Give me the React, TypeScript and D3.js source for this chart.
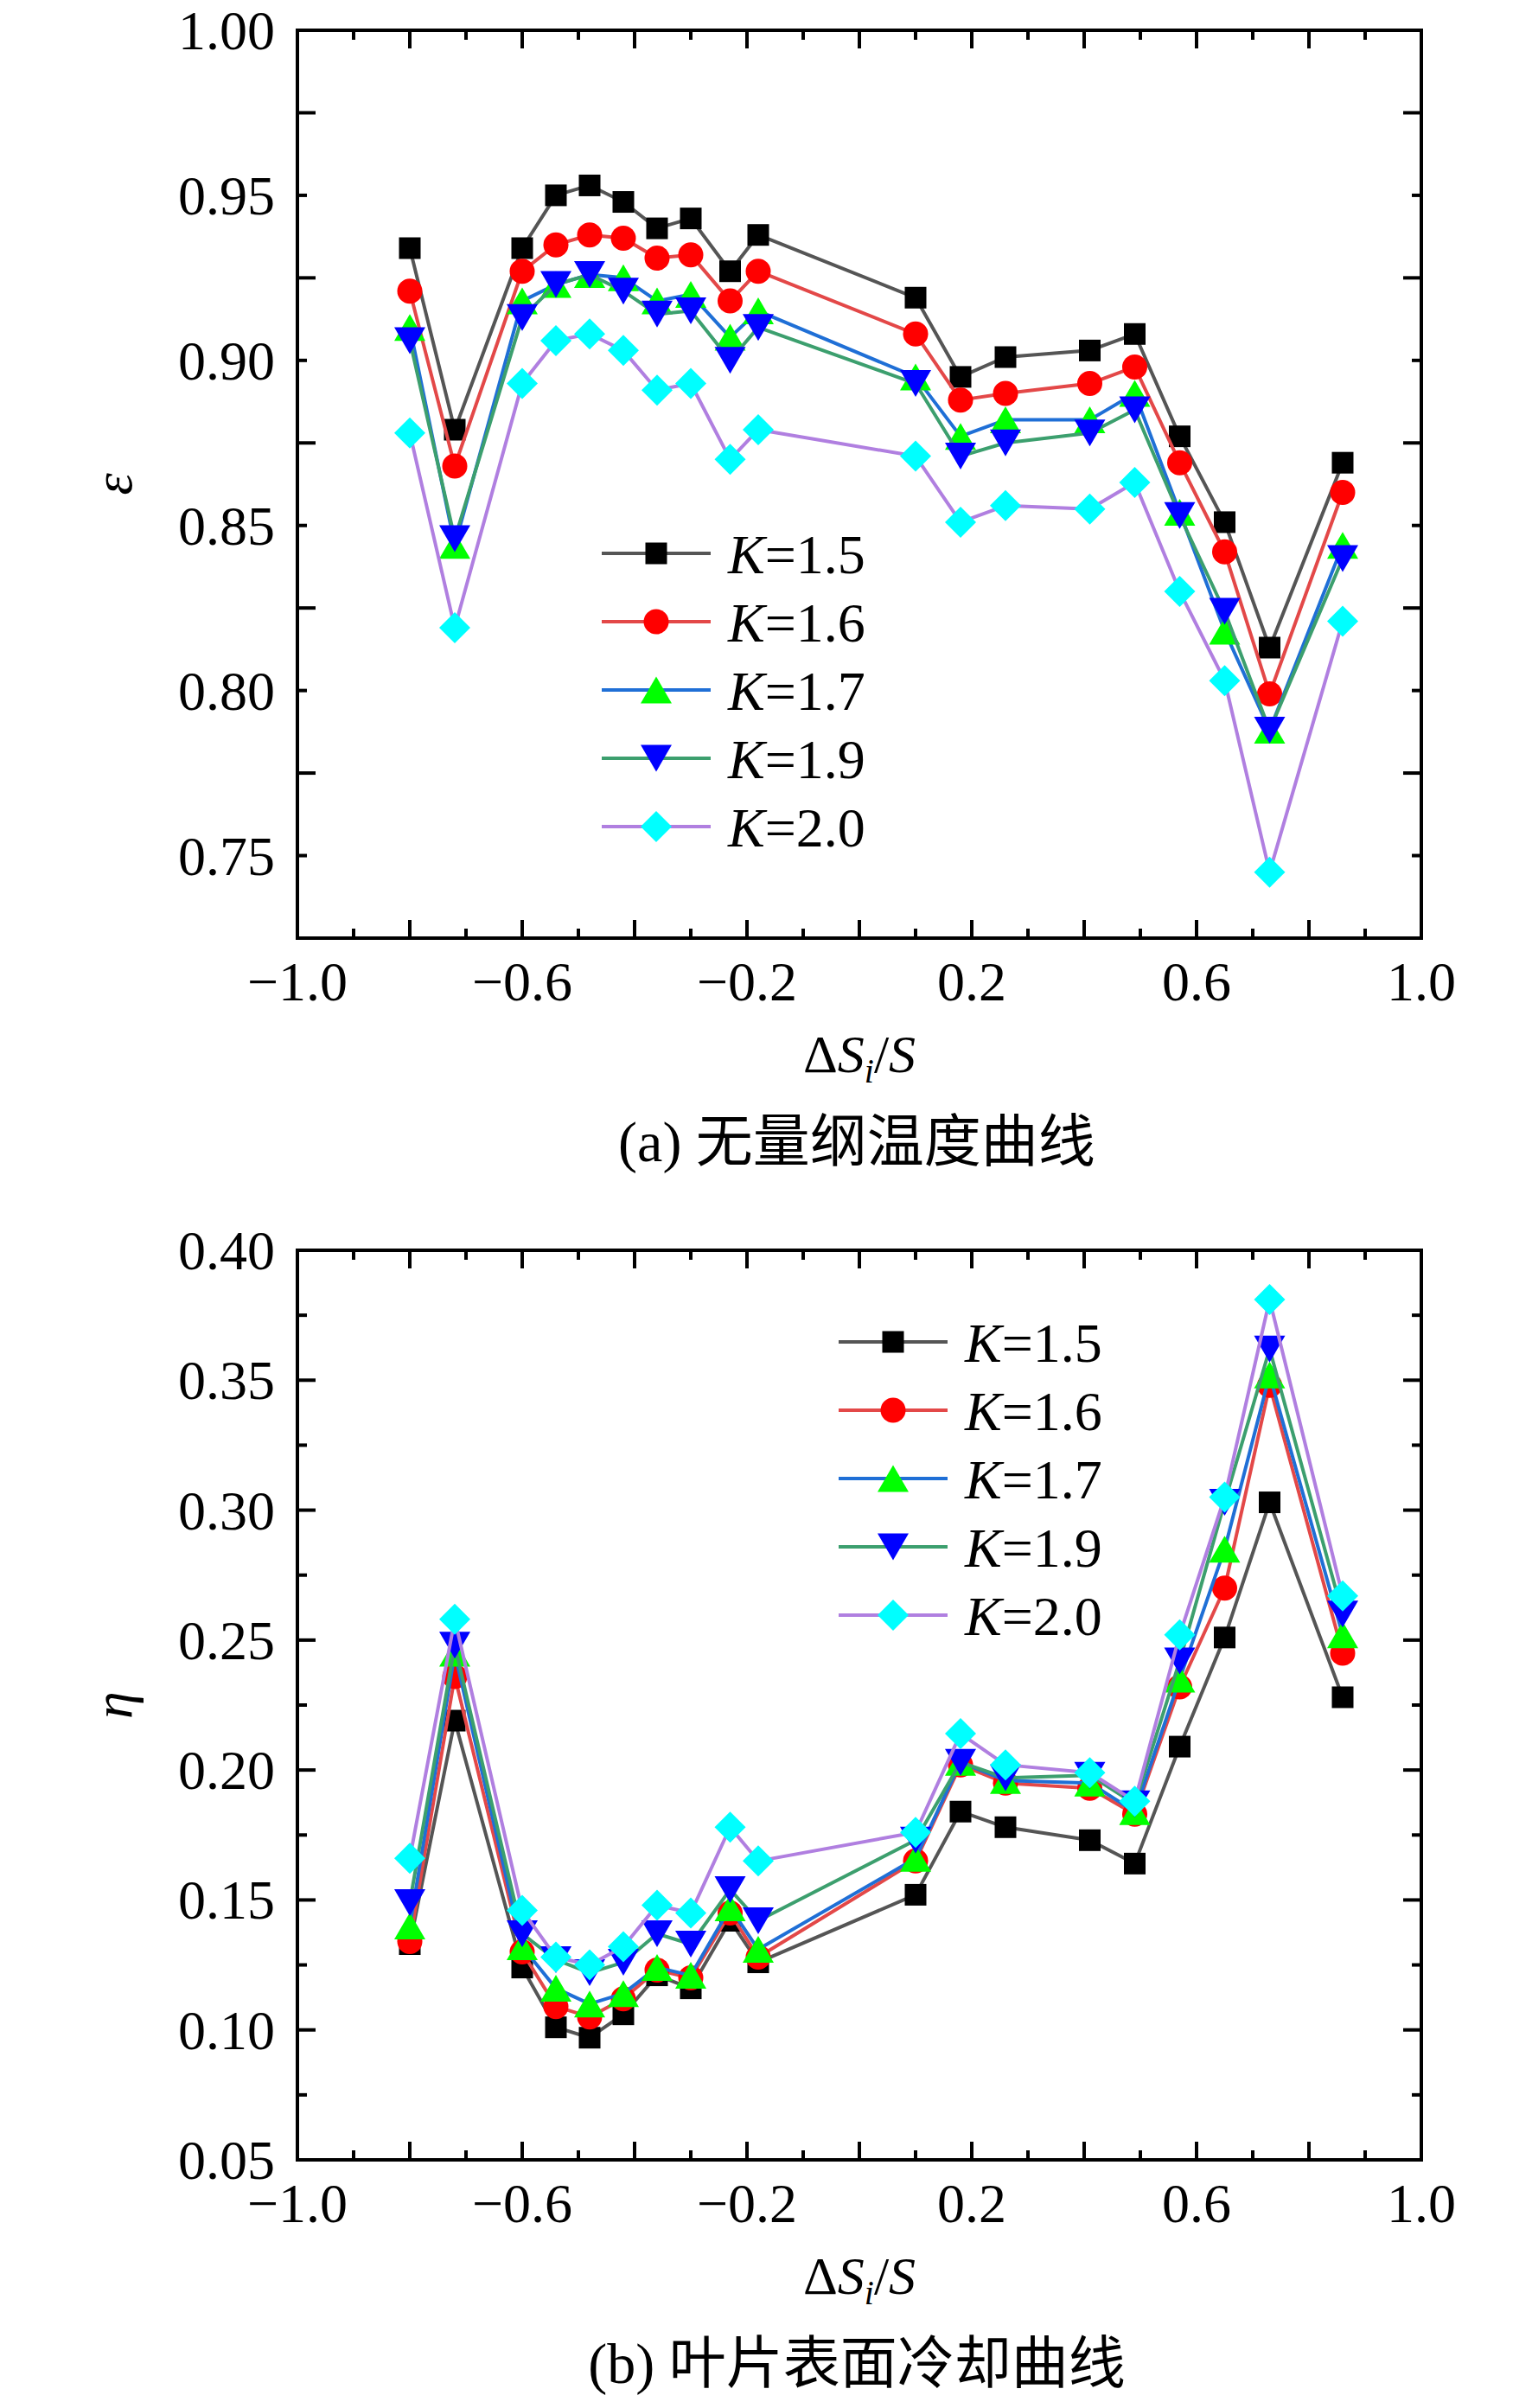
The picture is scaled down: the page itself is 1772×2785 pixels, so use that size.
import React from 'react';
import * as d3 from 'd3';

// positions along the blade surface, ΔSi/S
const xPos = [-0.8, -0.72, -0.6, -0.54, -0.48, -0.42, -0.36, -0.3, -0.23, -0.18, 0.1, 0.18, 0.26, 0.41, 0.49, 0.57, 0.65, 0.73, 0.86];

const kLabels = ['1.5', '1.6', '1.7', '1.9', '2.0'];

// (a) dimensionless temperature ε
const epsK15 = [0.934, 0.879, 0.934, 0.950, 0.953, 0.948, 0.940, 0.943, 0.927, 0.938, 0.919, 0.895, 0.901, 0.903, 0.908, 0.877, 0.851, 0.813, 0.869];
const epsK16 = [0.921, 0.868, 0.927, 0.935, 0.938, 0.937, 0.931, 0.932, 0.918, 0.927, 0.908, 0.888, 0.890, 0.893, 0.898, 0.869, 0.842, 0.799, 0.860];
const epsK17 = [0.910, 0.844, 0.918, 0.923, 0.926, 0.925, 0.918, 0.920, 0.907, 0.915, 0.895, 0.877, 0.882, 0.882, 0.890, 0.854, 0.818, 0.788, 0.844];
const epsK19 = [0.906, 0.846, 0.913, 0.923, 0.926, 0.921, 0.914, 0.915, 0.900, 0.910, 0.893, 0.871, 0.875, 0.878, 0.885, 0.853, 0.824, 0.788, 0.840];
const epsK20 = [0.878, 0.819, 0.893, 0.906, 0.908, 0.903, 0.891, 0.893, 0.870, 0.879, 0.871, 0.851, 0.856, 0.855, 0.863, 0.830, 0.803, 0.745, 0.821];

// (b) blade surface cooling η
const etaK15 = [0.133, 0.219, 0.124, 0.101, 0.097, 0.106, 0.121, 0.116, 0.142, 0.126, 0.152, 0.184, 0.178, 0.173, 0.164, 0.209, 0.251, 0.303, 0.228];
const etaK16 = [0.134, 0.236, 0.130, 0.109, 0.105, 0.112, 0.123, 0.120, 0.145, 0.128, 0.165, 0.202, 0.195, 0.193, 0.183, 0.232, 0.270, 0.348, 0.245];
const etaK17 = [0.140, 0.245, 0.132, 0.116, 0.110, 0.114, 0.124, 0.121, 0.147, 0.131, 0.166, 0.203, 0.196, 0.195, 0.184, 0.235, 0.285, 0.352, 0.252];
const etaK19 = [0.149, 0.248, 0.137, 0.127, 0.122, 0.126, 0.137, 0.133, 0.154, 0.142, 0.173, 0.203, 0.197, 0.198, 0.187, 0.242, 0.303, 0.362, 0.260];
const etaK20 = [0.166, 0.258, 0.146, 0.128, 0.125, 0.132, 0.148, 0.145, 0.178, 0.165, 0.176, 0.214, 0.202, 0.199, 0.188, 0.252, 0.305, 0.381, 0.267];

const xTickLabels = [-1.0, -0.6, -0.2, 0.2, 0.6, 1.0];
const epsTickLabels = [0.75, 0.8, 0.85, 0.9, 0.95, 1.0];
const etaTickLabels = [0.05, 0.1, 0.15, 0.2, 0.25, 0.3, 0.35, 0.4];

const lineColors = ['#555555', '#e34848', '#1f6fd6', '#3c9f6e', '#b07fe0'];
const markerColors = ['#000000', '#ff0000', '#00ff00', '#0000ff', '#00ffff'];
const markerShapes = ['square', 'circle', 'triangle', 'triangleDown', 'diamond'];

const SERIF = "'Liberation Serif', 'Times New Roman', serif";
const CAPTION_FONT = "'Liberation Serif', 'Noto Sans CJK SC', serif";

const W = 1772;
const H = 2785;
const LEFT = 344;
const RIGHT = 1644;

const Marker = ({ shape, color, x, y }: { shape: string; color: string; x: number; y: number }) => {
  if (shape === 'circle') return <circle cx={x} cy={y} r={14.5} fill={color} />;
  let d = '';
  if (shape === 'square') d = 'M-12.5,-12.5h25v25h-25z';
  if (shape === 'triangle') d = 'M0,-15.5L18,15.5L-18,15.5Z';
  if (shape === 'triangleDown') d = 'M0,15.5L18,-15.5L-18,-15.5Z';
  if (shape === 'diamond') d = 'M0,-18L18,0L0,18L-18,0Z';
  return <path d={d} transform={`translate(${x},${y})`} fill={color} />;
};

interface PanelProps {
  series: number[][];
  top: number;
  bottom: number;
  yDomain: [number, number];
  yTicks: number[];
  yLabel: string;
  caption: string;
  legendX: number;
  legendY: number;
}

const Panel: React.FC<PanelProps> = ({ series, top, bottom, yDomain, yTicks, yLabel, caption, legendX, legendY }) => {
  const x = d3.scaleLinear().domain([-1, 1]).range([LEFT, RIGHT]);
  const y = d3.scaleLinear().domain(yDomain).range([bottom, top]);

  const xMajor = d3.range(-1, 1.0001, 0.2).map(v => +v.toFixed(2));
  const xMinor = d3.range(-0.9, 1, 0.2).map(v => +v.toFixed(2));
  const yMajor = d3.range(yDomain[0], yDomain[1] + 1e-6, 0.05).map(v => +v.toFixed(3)).filter(v => v > yDomain[0] - 1e-6);
  const yMinor = d3.range(yDomain[0], yDomain[1], 0.025).map(v => +v.toFixed(3))
    .filter(v => !yMajor.some(m => Math.abs(m - v) < 1e-6) && v > yDomain[0] + 1e-6);

  const line = d3.line<number>().x((_, i) => x(xPos[i])).y(d => y(d));
  const fmtX = (v: number) => (v < 0 ? '\u2212' : '') + Math.abs(v).toFixed(1);

  const tickLines: JSX.Element[] = [];
  const addX = (v: number, len: number, key: string) => {
    tickLines.push(<line key={key + 'b'} x1={x(v)} x2={x(v)} y1={bottom} y2={bottom - len} />);
    tickLines.push(<line key={key + 't'} x1={x(v)} x2={x(v)} y1={top} y2={top + len} />);
  };
  const addY = (v: number, len: number, key: string) => {
    tickLines.push(<line key={key + 'l'} x1={LEFT} x2={LEFT + len} y1={y(v)} y2={y(v)} />);
    tickLines.push(<line key={key + 'r'} x1={RIGHT} x2={RIGHT - len} y1={y(v)} y2={y(v)} />);
  };
  xMajor.forEach((v, i) => addX(v, 21, 'xM' + i));
  xMinor.forEach((v, i) => addX(v, 11, 'xm' + i));
  yMajor.forEach((v, i) => addY(v, 21, 'yM' + i));
  yMinor.forEach((v, i) => addY(v, 11, 'ym' + i));

  return (
    <g>
      {series.map((vals, s) => (
        <g key={'s' + s}>
          <path d={line(vals) || ''} fill="none" stroke={lineColors[s]} strokeWidth={4} strokeLinejoin="round" />
          {vals.map((v, i) => (
            <Marker key={i} shape={markerShapes[s]} color={markerColors[s]} x={x(xPos[i])} y={y(v)} />
          ))}
        </g>
      ))}

      <g stroke="#000" strokeWidth={4}>{tickLines}</g>
      <rect x={LEFT} y={top} width={RIGHT - LEFT} height={bottom - top} fill="none" stroke="#000" strokeWidth={4} />

      <g fontFamily={SERIF} fontSize={64} fill="#000">
        {yTicks.map((v, i) => (
          <text key={'yl' + i} x={318} y={y(v) + 22} textAnchor="end">{v.toFixed(2)}</text>
        ))}
        {xTickLabels.map((v, i) => (
          <text key={'xl' + i} x={x(v)} y={bottom + 72} textAnchor="middle">{fmtX(v)}</text>
        ))}
      </g>

      <text
        transform={`translate(152,${(top + bottom) / 2}) rotate(-90)`}
        fontFamily={SERIF}
        fontStyle="italic"
        fontSize={64}
        textAnchor="middle"
      >
        {yLabel}
      </text>

      <text x={(LEFT + RIGHT) / 2} y={bottom + 155} fontFamily={SERIF} fontSize={62} textAnchor="middle">
        <tspan>Δ</tspan>
        <tspan fontStyle="italic">S</tspan>
        <tspan fontStyle="italic" fontSize={40} dy={12}>i</tspan>
        <tspan dy={-12}>/</tspan>
        <tspan fontStyle="italic">S</tspan>
      </text>

      <text x={991} y={bottom + 258} fontFamily={CAPTION_FONT} fontSize={66} textAnchor="middle">
        {caption}
      </text>

      {kLabels.map((k, s) => {
        const ly = legendY + s * 79;
        return (
          <g key={'lg' + s}>
            <line x1={legendX} x2={legendX + 126} y1={ly} y2={ly} stroke={lineColors[s]} strokeWidth={4} />
            <Marker shape={markerShapes[s]} color={markerColors[s]} x={legendX + 63} y={ly} />
            <text x={legendX + 146} y={ly + 23} fontFamily={SERIF} fontSize={64}>
              <tspan fontStyle="italic">K</tspan>
              <tspan>={k}</tspan>
            </text>
          </g>
        );
      })}
    </g>
  );
};

const App: React.FC = () => {
  return (
    <svg
      width={W}
      height={H}
      viewBox={`0 0 ${W} ${H}`}
      style={{ position: 'absolute', left: 0, top: 0, display: 'block', background: '#fff' }}
    >
      <rect width={W} height={H} fill="#fff" />
      <Panel
        series={[epsK15, epsK16, epsK17, epsK19, epsK20]}
        top={35}
        bottom={1085}
        yDomain={[0.725, 1.0]}
        yTicks={epsTickLabels}
        yLabel="ε"
        caption="(a) 无量纲温度曲线"
        legendX={696}
        legendY={640}
      />
      <Panel
        series={[etaK15, etaK16, etaK17, etaK19, etaK20]}
        top={1446}
        bottom={2498}
        yDomain={[0.05, 0.4]}
        yTicks={etaTickLabels}
        yLabel="η"
        caption="(b) 叶片表面冷却曲线"
        legendX={970}
        legendY={1552}
      />
    </svg>
  );
};

export default App;
